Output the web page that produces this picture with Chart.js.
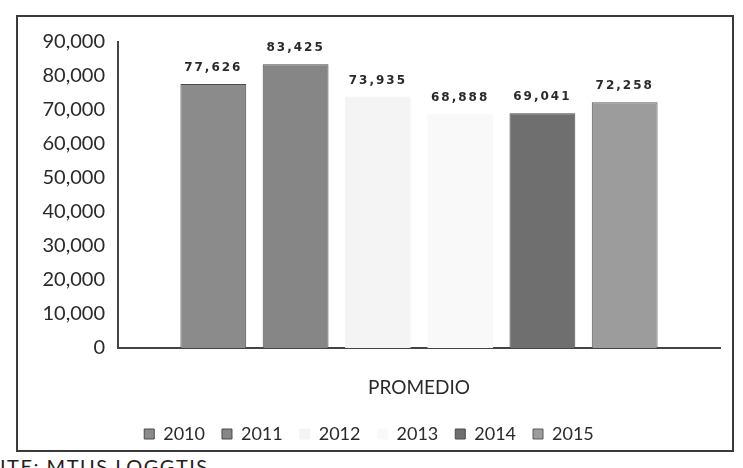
<!DOCTYPE html>
<html>
<head>
<meta charset="utf-8">
<script src="https://cdn.jsdelivr.net/npm/chart.js@4.4.1/dist/chart.umd.min.js"></script>
<style>
    body {
        margin: 0;
        background: #fff;
        width: 743px;
        height: 468px;
        overflow: hidden;
        position: relative;
        font-family: Lato, sans-serif;
    }
    #frame {
        position: absolute;
        left: 16px;
        top: 15px;
        width: 714px;
        height: 433px;
        border: 2px solid #3a3a3a;
        background: #fff;
    }
    #source {
        position: absolute;
        left: 0;
        top: 454px;
        font-size: 20px;
        color: #222;
        letter-spacing: 1.5px;
    }
</style>
</head>
<body>
<div id="frame"><canvas id="myChart" width="714" height="433"></canvas></div>
<div id="source">ITE: MTUS LOGGTIS</div>

<script>
    // data
    const categories = ['PROMEDIO'];
    const years = ['2010', '2011', '2012', '2013', '2014', '2015'];
    const values = [77626, 83425, 73935, 68888, 69041, 72258];
    const yTicks = [0, 10000, 20000, 30000, 40000, 50000, 60000, 70000, 80000, 90000];

    const fills = ['#8b8b8b', '#868686', '#f4f4f4', '#f9f9f9', '#6f6f6f', '#9c9c9c'];
    const borders = ['#4a4a4a', '#4a4a4a', '#f4f4f4', '#f9f9f9', '#4a4a4a', '#5a5a5a'];

    const datasets = years.map(function (y, i) {
        return {
            label: y,
            data: [values[i]],
            backgroundColor: fills[i],
            borderColor: borders[i],
            borderWidth: 1,
            barPercentage: 0.8,
            categoryPercentage: 0.82
        };
    });

    const fmt = function (v) {
        return v.toLocaleString('en-US');
    };

    const valueLabels = {
        id: 'valueLabels',
        afterDatasetsDraw(chart) {
            const ctx = chart.ctx;
            ctx.save();
            ctx.font = 'bold 12px "DejaVu Sans"';
            ctx.letterSpacing = '2px';
            ctx.fillStyle = '#2a2a2a';
            ctx.textAlign = 'center';
            ctx.textBaseline = 'bottom';
            chart.data.datasets.forEach(function (ds, i) {
                const bar = chart.getDatasetMeta(i).data[0];
                ctx.fillText(fmt(ds.data[0]), bar.x, bar.y - 10);
            });
            ctx.restore();
        }
    };

    const config = {
        type: 'bar',
        data: {
            labels: categories,
            datasets: datasets
        },
        options: {
            responsive: false,
            animation: false,
            layout: {
                padding: { top: 14, right: 12, left: 0, bottom: -3 }
            },
            plugins: {
                legend: {
                    position: 'bottom',
                    labels: {
                        boxWidth: 10,
                        boxHeight: 10,
                        padding: 17,
                        color: '#2a2a2a',
                        font: { family: 'Lato', size: 18 }
                    }
                },
                tooltip: { enabled: false }
            },
            scales: {
                x: {
                    afterFit: function (axis) { axis.height = 60; },
                    grid: { display: false, drawTicks: false },
                    border: { display: true, color: '#444', width: 2 },
                    ticks: {
                        padding: 28,
                        color: '#2a2a2a',
                        font: { family: 'Lato', size: 19 }
                    }
                },
                y: {
                    min: 0,
                    max: 90000,
                    afterFit: function (axis) { axis.width = 100; },
                    afterBuildTicks: function (axis) {
                        axis.ticks = yTicks.map(function (v) { return { value: v }; });
                    },
                    grid: { display: false, drawTicks: false },
                    border: { display: true, color: '#444', width: 2 },
                    ticks: {
                        padding: 13,
                        color: '#2a2a2a',
                        font: { family: 'Lato', size: 20 },
                        callback: function (v) { return fmt(v); }
                    }
                }
            }
        },
        plugins: [valueLabels]
    };

    const myChart = new Chart(document.getElementById('myChart'), config);
</script>
</body>
</html>
